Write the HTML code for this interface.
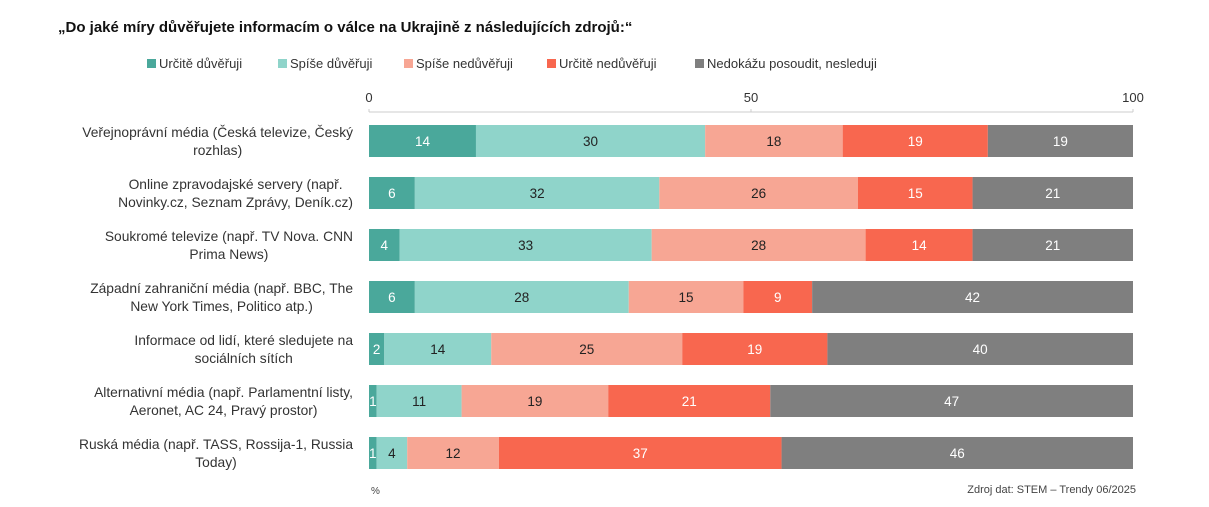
<!DOCTYPE html>
<html><head><meta charset="utf-8"><style>
body{margin:0;background:#fff;font-family:"Liberation Sans",sans-serif;}
#c{position:relative;width:1209px;height:507px;overflow:hidden;}
</style></head><body>
<div id="c">
<svg id="s" width="1209" height="507" xmlns="http://www.w3.org/2000/svg">
<text x="58" y="32" font-size="15" font-weight="bold" fill="#111">„Do jaké míry důvěřujete informacím o válce na Ukrajině z následujících zdrojů:“</text>
<g id="legend"></g>
<g id="axis"></g>
<g id="bars"></g>
<text x="371" y="494" font-size="10" fill="#444">%</text>
<text x="1136" y="493" font-size="11" fill="#444" text-anchor="end">Zdroj dat: STEM – Trendy 06/2025</text>
</svg>
</div>
<script>
const categories=[["Veřejnoprávní média (Česká televize, Český","rozhlas)"],["Online zpravodajské servery (např.","Novinky.cz, Seznam Zprávy, Deník.cz)"],["Soukromé televize (např. TV Nova. CNN","Prima News)"],["Západní zahraniční média (např. BBC, The","New York Times, Politico atp.)"],["Informace od lidí, které sledujete na","sociálních sítích"],["Alternativní média (např. Parlamentní listy,","Aeronet, AC 24, Pravý prostor)"],["Ruská média (např. TASS, Rossija-1, Russia","Today)"]];
const seriesNames=["Určitě důvěřuji","Spíše důvěřuji","Spíše nedůvěřuji","Určitě nedůvěřuji","Nedokážu posoudit, nesleduji"];
const definitelyTrust=[14,6,4,6,2,1,1];
const ratherTrust=[30,32,33,28,14,11,4];
const ratherDistrust=[18,26,28,15,25,19,12];
const definitelyDistrust=[19,15,14,9,19,21,37];
const cannotJudge=[19,21,21,42,40,47,46];
const ticks=[0,50,100];
const series=[definitelyTrust,ratherTrust,ratherDistrust,definitelyDistrust,cannotJudge];
const colors=["#4aa89b","#8fd4ca","#f7a694","#f8674f","#7f7f7f"];
const textColors=["#fff","#222","#222","#fff","#fff"];
const NS="http://www.w3.org/2000/svg";
const x0=369,x1=1133;
const xs=v=>x0+(x1-x0)*v/100;
const yc=i=>141+i*52;
function mk(tag,attrs,parent){const e=document.createElementNS(NS,tag);for(const k in attrs)e.setAttribute(k,attrs[k]);parent.appendChild(e);return e;}
const lg=document.getElementById('legend');
const lx=[147,278,404,547,695];
seriesNames.forEach((n,i)=>{
 const r=mk('rect',{x:lx[i],y:59,width:9,height:9,fill:colors[i]},lg);
 
 
 const t=mk('text',{x:lx[i]+12,y:68,'font-size':13,fill:'#333'},lg);
 t.textContent=n;
 
 
});
const ax=document.getElementById('axis');
const al=mk('line',{x1:x0,x2:x1,y1:112,y2:112,stroke:'#ccc'},ax);


ticks.forEach(v=>{
 mk('line',{x1:xs(v),x2:xs(v),y1:109,y2:112,stroke:'#ccc'},ax);
 const t=mk('text',{x:xs(v),y:102,'font-size':13,fill:'#333','text-anchor':'middle'},ax);
 t.textContent=v;
 
 
});
const bg=document.getElementById('bars');
categories.forEach((c,i)=>{
 const y=yc(i);
 const ts=c.map((ln,j)=>{
  const t=mk('text',{x:0,y:y-4+j*18,'font-size':13.8,fill:'#333','text-anchor':'middle'},bg);
  t.textContent=ln;
  
  
  return t;
 });
 const w=Math.max(...ts.map(t=>t.getComputedTextLength()));
 ts.forEach(t=>t.setAttribute('x',353-w/2));
 let acc=0;
 const total=series.reduce((a,s)=>a+s[i],0);
 series.forEach((s,k)=>{
  const v=s[i];
  const a=acc*100/total,b=(acc+v)*100/total;
  const r=mk('rect',{x:xs(a),y:y-16,width:xs(b)-xs(a),height:32,fill:colors[k]},bg);
  
  
  const t=mk('text',{x:(xs(a)+xs(b))/2,y:y+5,'font-size':13.5,fill:textColors[k],'text-anchor':'middle'},bg);
  t.textContent=v;
  
  
  acc+=v;
 });
});
</script>
</body></html>
